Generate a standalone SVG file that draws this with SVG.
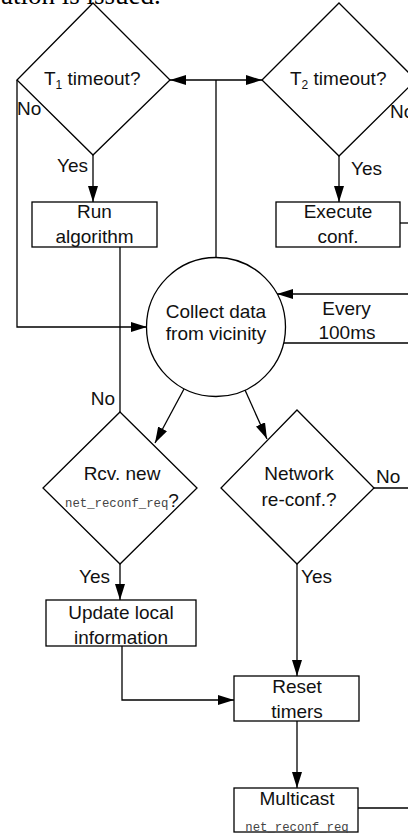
<svg xmlns="http://www.w3.org/2000/svg" width="408" height="833" viewBox="0 0 408 833">
<style>
.shape{fill:#fff;stroke:#000;stroke-width:1.3}
.conn{fill:none;stroke:#000;stroke-width:1.3}
.arr{marker-end:url(#ah)}
text{font-family:"Liberation Sans",Arial,sans-serif;font-size:19px;fill:#111}
.c{text-anchor:middle}
.e{text-anchor:end}
.mono{font-family:"Liberation Mono","Courier New",monospace;font-size:12.3px;fill:#444}
.sub{font-size:12px}
.top{font-family:"Liberation Serif","Times New Roman",serif;font-size:27px;fill:#000}
</style>
<defs>
<marker id="ah" markerUnits="userSpaceOnUse" markerWidth="16" markerHeight="10" refX="16" refY="5" orient="auto">
<path d="M0,0 L16,5 L0,10 z" fill="#000"/>
</marker>
</defs>
<rect width="408" height="833" fill="#fff"/>
<text class="top" x="1" y="4">ation is issued.</text>

<g id="connectors">
<path class="conn arr" d="M93,155 V202"/>
<path class="conn arr" d="M339,156 V202"/>
<path class="conn" d="M216,258 V80"/>
<path class="conn arr" d="M216,80 H170"/>
<path class="conn arr" d="M216,80 H262"/>
<path class="conn arr" d="M17,80 V327 H147"/>
<path class="conn" d="M120,247 V412"/>
<path class="conn" d="M400,223 H408"/>
<path class="conn arr" d="M408,294 H277"/>
<path class="conn" d="M284,343 H408"/>
<path class="conn arr" d="M184,389 L155,443"/>
<path class="conn arr" d="M245,390 L267,439"/>
<path class="conn" d="M374,488 H408"/>
<path class="conn arr" d="M297,564 V676"/>
<path class="conn arr" d="M120,564 V600"/>
<path class="conn arr" d="M122,646 V700 H234"/>
<path class="conn arr" d="M297,721 V788"/>
<path class="conn" d="M358,808 H408"/>
</g>

<g id="t1">
<polygon class="shape" points="93,3 170,80 93,155 17,80"/>
<text x="44" y="85">T<tspan class="sub" dy="4">1</tspan><tspan dy="-4"> timeout?</tspan></text>
</g>
<g id="t2">
<polygon class="shape" points="339,3 416,80 339,156 262,80"/>
<text x="290" y="85">T<tspan class="sub" dy="4">2</tspan><tspan dy="-4"> timeout?</tspan></text>
</g>
<g id="run">
<rect class="shape" x="32" y="202" width="125" height="45"/>
<text class="c" x="94.5" y="218">Run</text>
<text class="c" x="94.5" y="243">algorithm</text>
</g>
<g id="execute">
<rect class="shape" x="276" y="202" width="124" height="45"/>
<text class="c" x="338" y="218">Execute</text>
<text class="c" x="338" y="243">conf.</text>
</g>
<g id="collect">
<circle class="shape" cx="216" cy="327" r="69.5"/>
<text class="c" x="216" y="318">Collect data</text>
<text class="c" x="216" y="340">from vicinity</text>
</g>
<g id="rcv">
<polygon class="shape" points="120,412 197,488 120,564 43,488"/>
<text class="c" x="122" y="480">Rcv. new</text>
<text x="65" y="507"><tspan class="mono">net_reconf_req</tspan>?</text>
</g>
<g id="network">
<polygon class="shape" points="297,410 374,488 297,564 221,488"/>
<text class="c" x="299" y="480">Network</text>
<text class="c" x="299" y="506">re-conf.?</text>
</g>
<g id="update">
<rect class="shape" x="46" y="600" width="150" height="46"/>
<text class="c" x="121" y="619">Update local</text>
<text class="c" x="121" y="644">information</text>
</g>
<g id="reset">
<rect class="shape" x="234" y="676" width="125" height="45"/>
<text class="c" x="297" y="693">Reset</text>
<text class="c" x="297" y="718">timers</text>
</g>
<g id="multicast">
<rect class="shape" x="234" y="788" width="124" height="44"/>
<text class="c" x="297" y="805">Multicast</text>
<text class="mono c" x="297" y="831">net_reconf_req</text>
</g>

<g id="labels">
<text x="17" y="115">No</text>
<text class="e" x="88" y="172">Yes</text>
<text x="390" y="118">No</text>
<text x="351" y="175">Yes</text>
<text class="c" x="346.5" y="315">Every</text>
<text class="c" x="347" y="339">100ms</text>
<text class="e" x="115" y="405">No</text>
<text x="376" y="483">No</text>
<text x="301" y="583">Yes</text>
<text class="e" x="110" y="583">Yes</text>
</g>
</svg>
